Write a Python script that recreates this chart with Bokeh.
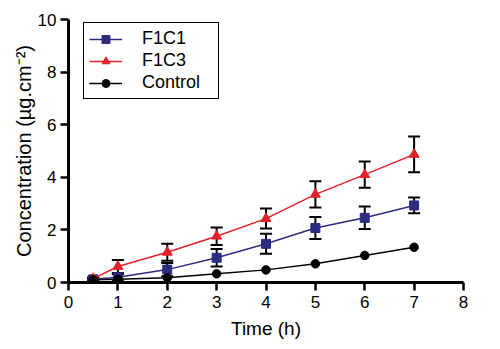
from bokeh.plotting import figure
from bokeh.models import Range1d, Whisker, TeeHead, ColumnDataSource, Legend, LegendItem, FixedTicker
from bokeh.embed import file_html
from bokeh.resources import INLINE

time = [0.5, 1, 2, 3, 4, 5, 6, 7]
f1c1 = [0.12, 0.2, 0.49, 0.94, 1.47, 2.07, 2.46, 2.93]
f1c1_err = [0.05, 0.12, 0.25, 0.33, 0.38, 0.42, 0.43, 0.3]
f1c3 = [0.15, 0.61, 1.15, 1.76, 2.43, 3.35, 4.1, 4.87]
f1c3_err = [0.05, 0.25, 0.32, 0.33, 0.38, 0.5, 0.5, 0.68]
control = [0.1, 0.12, 0.18, 0.33, 0.48, 0.71, 1.03, 1.34]
x_ticks = [0, 1, 2, 3, 4, 5, 6, 7, 8]
y_ticks = [0, 2, 4, 6, 8, 10]

FONT = "Liberation Sans"
BLUE = "#2d2c80"
RED = "#e4212a"

p = figure(width=500, height=349, output_backend="svg", toolbar_location=None,
           x_range=Range1d(0, 8), y_range=Range1d(0, 10),
           min_border_left=68, min_border_right=37, min_border_top=19, min_border_bottom=67)
p.outline_line_color = None
p.grid.visible = False

for ax in (p.xaxis[0], p.yaxis[0]):
    ax.axis_line_width = 3
    ax.axis_line_color = "black"
    ax.major_tick_line_width = 2.5
    ax.major_tick_out = 8
    ax.major_tick_in = 0
    ax.minor_tick_out = 0
    ax.minor_tick_in = 0
    ax.major_label_text_font = FONT
    ax.major_label_text_font_size = "17px"
    ax.major_label_text_color = "black"
    ax.axis_label_text_font = FONT
    ax.axis_label_text_font_style = "normal"
    ax.axis_label_text_color = "black"

p.xaxis.ticker = FixedTicker(ticks=x_ticks)
p.yaxis.ticker = FixedTicker(ticks=y_ticks)
p.xaxis.axis_label = "Time (h)"
p.yaxis.axis_label = "Concentration (µg.cm⁻²)"
p.xaxis.axis_label_text_font_size = "19px"
p.yaxis.axis_label_text_font_size = "20px"
p.xaxis.major_label_standoff = 5
p.yaxis.major_label_standoff = 4
p.xaxis.axis_label_standoff = 7
p.yaxis.axis_label_standoff = 0

src1 = ColumnDataSource(dict(x=time, y=f1c1,
                             lo=[a - b for a, b in zip(f1c1, f1c1_err)],
                             hi=[a + b for a, b in zip(f1c1, f1c1_err)]))
src3 = ColumnDataSource(dict(x=time, y=f1c3,
                             lo=[a - b for a, b in zip(f1c3, f1c3_err)],
                             hi=[a + b for a, b in zip(f1c3, f1c3_err)]))
srcc = ColumnDataSource(dict(x=time, y=control))

for s in (src1, src3):
    w = Whisker(source=s, base="x", lower="lo", upper="hi", line_color="black", line_width=2,
                upper_head=TeeHead(size=12, line_color="black", line_width=2),
                lower_head=TeeHead(size=12, line_color="black", line_width=2))
    p.add_layout(w)

l1 = p.line("x", "y", source=src1, line_color=BLUE, line_width=1.5)
m1 = p.scatter("x", "y", source=src1, marker="square", size=9, fill_color=BLUE, line_color=BLUE)
l3 = p.line("x", "y", source=src3, line_color=RED, line_width=1.5)
m3 = p.scatter("x", "y", source=src3, marker="triangle", size=10, fill_color=RED, line_color=RED)
lc = p.line("x", "y", source=srcc, line_color="black", line_width=1.5)
mc = p.scatter("x", "y", source=srcc, marker="circle", size=8.5, fill_color="black", line_color="black")

legend = Legend(items=[LegendItem(label="F1C1", renderers=[l1, m1]),
                       LegendItem(label="F1C3", renderers=[l3, m3]),
                       LegendItem(label="Control", renderers=[lc, mc])],
                location=(15, 183))
legend.border_line_color = "black"
legend.border_line_alpha = 1.0
legend.border_line_width = 1.5
legend.background_fill_color = "white"
legend.background_fill_alpha = 1
legend.label_text_font = FONT
legend.label_text_font_size = "18px"
legend.label_text_color = "black"
legend.glyph_width = 33
legend.glyph_height = 20
legend.label_height = 20
legend.label_width = 71
legend.spacing = 1
legend.padding = 5
legend.margin = 0
legend.label_standoff = 20
p.add_layout(legend, "center")

open("out.html", "w").write(file_html(p, INLINE))
